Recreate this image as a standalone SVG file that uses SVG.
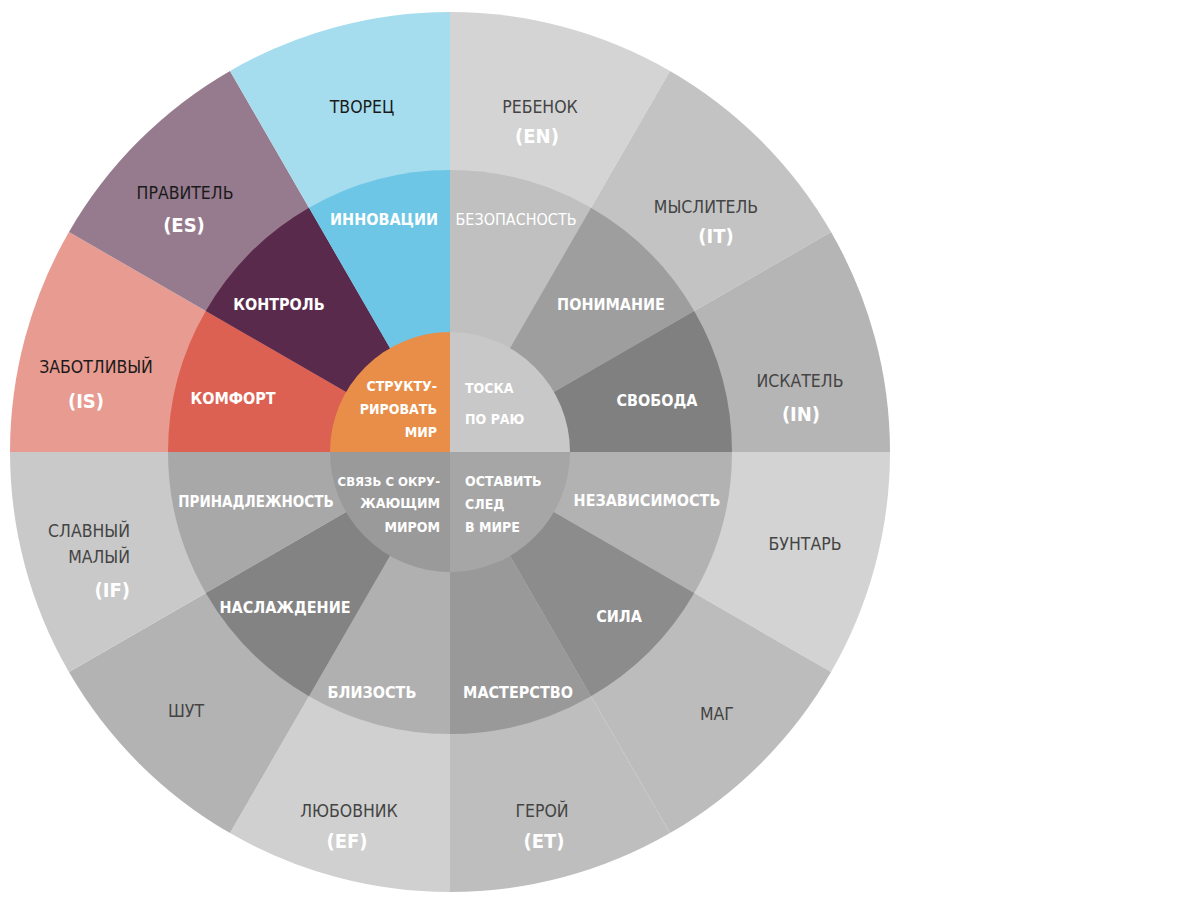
<svg xmlns="http://www.w3.org/2000/svg" width="1200" height="900" viewBox="0 0 1200 900">
<style>
text{font-family:"DejaVu Sans Condensed","DejaVu Sans","Liberation Sans",sans-serif;text-anchor:middle}
.o{font-size:17.5px;fill:#444}
.od{font-size:17.5px;fill:#1a1a1a}
.c{font-size:20px;fill:#fff;font-weight:bold}
.m{font-size:16px;fill:#fff;font-weight:bold}
.i{font-size:14px;fill:#fff;font-weight:bold}
.l{text-anchor:start}
.r{text-anchor:end}
</style>
<rect width="1200" height="900" fill="#fff"/>
<g id="outer">
<g id="rebenok"><path d="M450 452 L450 12 A440 440 0 0 1 670 70.95 Z" fill="#d4d4d4"/><text class="o" x="540" y="113">РЕБЕНОК</text><text class="c" x="537" y="143">(EN)</text></g>
<g id="myslitel"><path d="M450 452 L670 70.95 A440 440 0 0 1 831.05 232 Z" fill="#c3c3c3"/><text class="o" x="706" y="213">МЫСЛИТЕЛЬ</text><text class="c" x="716" y="243">(IT)</text></g>
<g id="iskatel"><path d="M450 452 L831.05 232 A440 440 0 0 1 890 452 Z" fill="#b5b5b5"/><text class="o" x="800" y="387">ИСКАТЕЛЬ</text><text class="c" x="801" y="421">(IN)</text></g>
<g id="buntar"><path d="M450 452 L890 452 A440 440 0 0 1 831.05 672 Z" fill="#d3d3d3"/><text class="o" x="805" y="550">БУНТАРЬ</text></g>
<g id="mag"><path d="M450 452 L831.05 672 A440 440 0 0 1 670 833.05 Z" fill="#bcbcbc"/><text class="o" x="717" y="720">МАГ</text></g>
<g id="geroy"><path d="M450 452 L670 833.05 A440 440 0 0 1 450 892 Z" fill="#bebebe"/><text class="o" x="542" y="817">ГЕРОЙ</text><text class="c" x="544" y="848">(ET)</text></g>
<g id="lyubovnik"><path d="M450 452 L450 892 A440 440 0 0 1 230 833.05 Z" fill="#d0d0d0"/><text class="o" x="349" y="817">ЛЮБОВНИК</text><text class="c" x="347" y="848">(EF)</text></g>
<g id="shut"><path d="M450 452 L230 833.05 A440 440 0 0 1 68.95 672 Z" fill="#b3b3b3"/><text class="o" x="186" y="717">ШУТ</text></g>
<g id="slavny"><path d="M450 452 L68.95 672 A440 440 0 0 1 10 452 Z" fill="#c9c9c9"/><text class="o r" x="130" y="537">СЛАВНЫЙ</text><text class="o r" x="130" y="563">МАЛЫЙ</text><text class="c r" x="130" y="597">(IF)</text></g>
<g id="zabotlivy"><path d="M450 452 L10 452 A440 440 0 0 1 68.95 232 Z" fill="#e89b91"/><text class="od" x="96" y="373">ЗАБОТЛИВЫЙ</text><text class="c" x="86" y="408">(IS)</text></g>
<g id="pravitel"><path d="M450 452 L68.95 232 A440 440 0 0 1 230 70.95 Z" fill="#967b8e"/><text class="od" x="185" y="199">ПРАВИТЕЛЬ</text><text class="c" x="184" y="232">(ES)</text></g>
<g id="tvorets"><path d="M450 452 L230 70.95 A440 440 0 0 1 450 12 Z" fill="#a6ddee"/><text class="od" x="362" y="113">ТВОРЕЦ</text></g>
</g>
<g id="middle">
<g id="bezopasnost"><path d="M450 452 L450 170 A282 282 0 0 1 591 207.78 Z" fill="#c0c0c0"/><text class="m" x="516" y="225" style="font-weight:normal">БЕЗОПАСНОСТЬ</text></g>
<g id="ponimanie"><path d="M450 452 L591 207.78 A282 282 0 0 1 694.22 311 Z" fill="#9e9e9e"/><text class="m" x="611" y="310">ПОНИМАНИЕ</text></g>
<g id="svoboda"><path d="M450 452 L694.22 311 A282 282 0 0 1 732 452 Z" fill="#808080"/><text class="m" x="657" y="406">СВОБОДА</text></g>
<g id="nezavisimost"><path d="M450 452 L732 452 A282 282 0 0 1 694.22 593 Z" fill="#b2b2b2"/><text class="m" x="647" y="506">НЕЗАВИСИМОСТЬ</text></g>
<g id="sila"><path d="M450 452 L694.22 593 A282 282 0 0 1 591 696.22 Z" fill="#8c8c8c"/><text class="m" x="619" y="622">СИЛА</text></g>
<g id="masterstvo"><path d="M450 452 L591 696.22 A282 282 0 0 1 450 734 Z" fill="#999999"/><text class="m" x="518" y="698">МАСТЕРСТВО</text></g>
<g id="blizost"><path d="M450 452 L450 734 A282 282 0 0 1 309 696.22 Z" fill="#b0b0b0"/><text class="m" x="372" y="698">БЛИЗОСТЬ</text></g>
<g id="naslazhdenie"><path d="M450 452 L309 696.22 A282 282 0 0 1 205.78 593 Z" fill="#838383"/><text class="m" x="285" y="613">НАСЛАЖДЕНИЕ</text></g>
<g id="prinadlezhnost"><path d="M450 452 L205.78 593 A282 282 0 0 1 168 452 Z" fill="#a8a8a8"/><text class="m" x="256" y="507" style="font-size:15px">ПРИНАДЛЕЖНОСТЬ</text></g>
<g id="komfort"><path d="M450 452 L168 452 A282 282 0 0 1 205.78 311 Z" fill="#dc6152"/><text class="m" x="233" y="404">КОМФОРТ</text></g>
<g id="kontrol"><path d="M450 452 L205.78 311 A282 282 0 0 1 309 207.78 Z" fill="#5a2a4c"/><text class="m" x="279" y="310">КОНТРОЛЬ</text></g>
<g id="innovatsii"><path d="M450 452 L309 207.78 A282 282 0 0 1 450 170 Z" fill="#6ec6e6"/><text class="m" x="384" y="225">ИННОВАЦИИ</text></g>
</g>
<g id="inner">
<g id="toska"><path d="M450 452 L450 332 A120 120 0 0 1 570 452 Z" fill="#c8c8c8"/><text class="i l" x="465" y="393">ТОСКА</text><text class="i l" x="465" y="424">ПО РАЮ</text></g>
<g id="sled"><path d="M450 452 L570 452 A120 120 0 0 1 450 572 Z" fill="#a6a6a6"/><text class="i l" x="465" y="486">ОСТАВИТЬ</text><text class="i l" x="465" y="509">СЛЕД</text><text class="i l" x="465" y="532">В МИРЕ</text></g>
<g id="svyaz"><path d="M450 452 L450 572 A120 120 0 0 1 330 452 Z" fill="#9a9a9a"/><text class="i r" x="440" y="486" style="font-size:13px">СВЯЗЬ С ОКРУ-</text><text class="i r" x="440" y="508">ЖАЮЩИМ</text><text class="i r" x="440" y="532">МИРОМ</text></g>
<g id="struktura"><path d="M450 452 L330 452 A120 120 0 0 1 450 332 Z" fill="#e88e48"/><text class="i r" x="437" y="391">СТРУКТУ-</text><text class="i r" x="437" y="414">РИРОВАТЬ</text><text class="i r" x="437" y="437">МИР</text></g>
</g>
</svg>
